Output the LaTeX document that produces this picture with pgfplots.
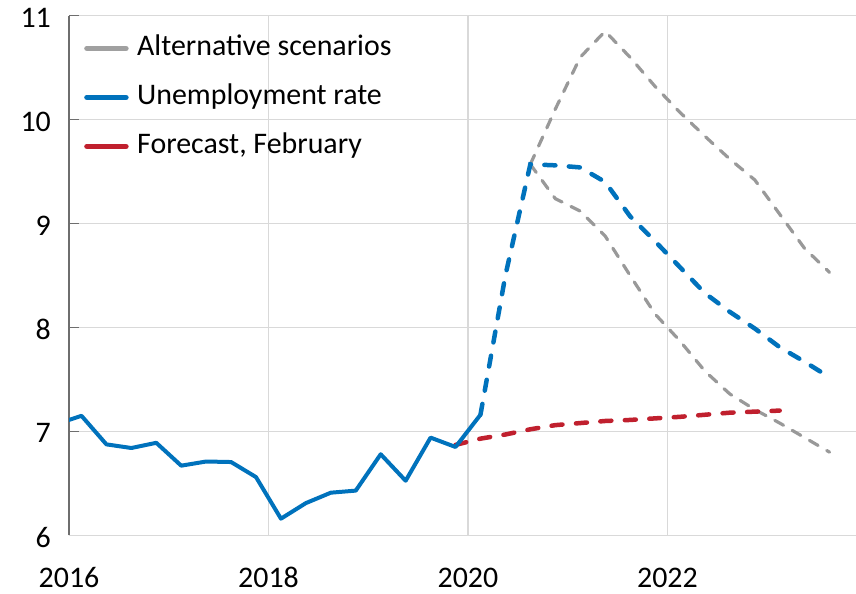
\documentclass[border=0pt]{standalone}
\usepackage{fontspec}
\setmainfont{Carlito}
\usepackage{pgfplots}
\pgfplotsset{compat=1.18}
\definecolor{ublue}{RGB}{0,114,188}
\definecolor{ured}{RGB}{192,32,46}
\definecolor{ugray}{RGB}{153,153,153}
\definecolor{lgray}{RGB}{160,160,160}
\definecolor{gridc}{RGB}{217,217,217}
\definecolor{axc}{RGB}{110,110,110}
\begin{document}
\begin{tikzpicture}
\useasboundingbox (0,0) rectangle (856bp,594bp);
\begin{axis}[
  at={(69bp,58.7bp)}, anchor=south west,
  scale only axis, width=787bp, height=519.6bp,
  xmin=2016, xmax=2023.89, ymin=6, ymax=11,
  xtick={2016,2018,2020,2022}, ytick={6,7,8,9,10,11},
  axis x line*=bottom, axis y line*=left,
  x axis line style={draw=gridc, line width=1.3bp},
  y axis line style={draw=axc, line width=1.3bp},
  xmajorgrids, ymajorgrids,
  major grid style={draw=gridc, line width=1.3bp},
  xtick style={draw=none},
  ytick style={draw=axc, line width=1.3bp},
  major tick length=10bp,
  tick align=inside,
  /pgf/number format/.cd, 1000 sep={}, assume math mode=true, /pgfplots/.cd,
  tick label style={font=\fontsize{30}{36}\selectfont, inner sep=0pt},
  xticklabel style={anchor=base, yshift=-52bp},
  yticklabel style={anchor=east, xshift=-18bp, yshift=-2bp},
  legend style={at={(0,1)}, anchor=north west, xshift=12bp, yshift=-17bp,
    draw=none, fill=none, font=\fontsize{30}{36}\selectfont,
    row sep=22bp, column sep=8.5bp,
    nodes={inner sep=0pt, text height=21bp, text depth=6bp}},
  legend cell align=left,
  legend image code/.code={\draw[#1, solid, line cap=round] (0bp,0bp) -- (39bp,0bp);},
]
\addlegendimage{lgray, line width=5.5bp}
\addlegendentry{Alternative scenarios}
\addlegendimage{ublue, line width=5.5bp}
\addlegendentry{Unemployment rate}
\addlegendimage{ured, line width=5.5bp}
\addlegendentry{Forecast, February}

% upper alternative scenario
\addplot[forget plot, ugray, line width=3.2bp, line cap=round, dash pattern=on 10bp off 10bp] coordinates {
(2020.625,9.57) (2020.875,10.10) (2021.125,10.60) (2021.375,10.85) (2021.625,10.60)
(2021.875,10.32) (2022.125,10.07) (2022.375,9.84) (2022.625,9.62) (2022.875,9.42)
(2023.125,9.09) (2023.375,8.76) (2023.625,8.53)};
% lower alternative scenario
\addplot[forget plot, ugray, line width=3.2bp, line cap=round, dash pattern=on 10bp off 10bp] coordinates {
(2020.625,9.57) (2020.875,9.24) (2021.125,9.12) (2021.375,8.88) (2021.625,8.50)
(2021.875,8.13) (2022.125,7.87) (2022.375,7.58) (2022.625,7.36) (2022.875,7.21)
(2023.125,7.08) (2023.375,6.94) (2023.625,6.80)};
% forecast February
\addplot[forget plot, ured, line width=4.5bp, line cap=round, dash pattern=on 11bp off 13.5bp] coordinates {
(2019.875,6.87) (2020.125,6.93) (2020.375,6.97) (2020.625,7.02) (2020.875,7.06)
(2021.125,7.08) (2021.375,7.10) (2021.625,7.11) (2021.875,7.125) (2022.125,7.14)
(2022.375,7.16) (2022.625,7.18) (2022.875,7.19) (2023.125,7.20)};
% unemployment rate, outcome
\addplot[forget plot, ublue, line width=4bp, line join=round] coordinates {
(2015.875,7.07) (2016.125,7.15) (2016.375,6.875) (2016.625,6.84) (2016.875,6.89)
(2017.125,6.67) (2017.375,6.71) (2017.625,6.705) (2017.875,6.56) (2018.125,6.16)
(2018.375,6.31) (2018.625,6.41) (2018.875,6.43) (2019.125,6.78) (2019.375,6.525)
(2019.625,6.94) (2019.875,6.85) (2020.125,7.16)};
% unemployment rate, forecast
\addplot[forget plot, ublue, line width=4.5bp, line cap=round, dash pattern=on 11bp off 13.5bp] coordinates {
(2020.125,7.16) (2020.375,8.50) (2020.625,9.57) (2020.875,9.56) (2021.125,9.54)
(2021.375,9.40) (2021.625,9.07) (2021.875,8.83) (2022.125,8.58) (2022.375,8.33)
(2022.625,8.15) (2022.875,7.99) (2023.125,7.81) (2023.375,7.67) (2023.625,7.52)};
\end{axis}
\end{tikzpicture}
\end{document}
